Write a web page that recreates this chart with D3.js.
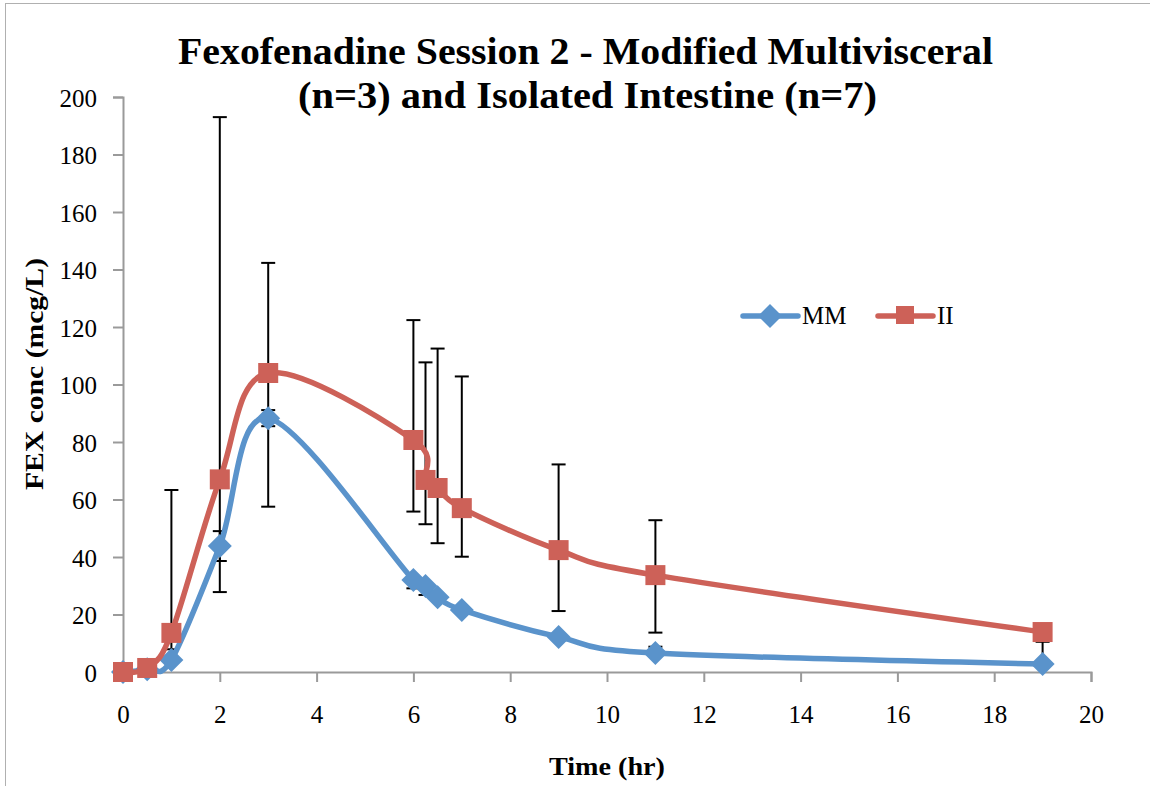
<!DOCTYPE html>
<html><head><meta charset="utf-8">
<script src="https://cdn.jsdelivr.net/npm/d3@7"></script>
<style>body{margin:0;background:#fff}svg{display:block}</style>
</head><body><svg id="c" width="1150" height="786"></svg>
<script>
const times = [0, 0.5, 1, 2, 3, 6, 6.25, 6.5, 7, 9, 11, 19];
const mmValues = [0, 1, 4.2, 43.8, 88.3, 32, 29.9, 26, 21.6, 12.2, 6.6, 2.8];
const mmUpper  = [0, 1, 4.2, 49, 91.1, 32, 29.9, 26, 21.6, 12.2, 8.8, 10.5];
const mmLower  = [0, 1, 4.2, 38.6, 85.5, 29.1, 26.8, 26, 21.6, 12.2, 6.6, 2.8];
const iiValues = [0, 1.4, 13.6, 67, 104, 80.7, 66.8, 64, 57, 42.4, 33.7, 13.9];
const iiUpper  = [0, 1.4, 63.3, 193, 142.3, 122.4, 107.7, 112.5, 102.8, 72.2, 52.8, 13.9];
const iiLower  = [0, 1.4, 7.9, 27.8, 57.5, 55.8, 51.4, 44.8, 40.1, 21.2, 13.7, 13.9];
const xTicks = [0, 2, 4, 6, 8, 10, 12, 14, 16, 18, 20];
const yTicks = [0, 20, 40, 60, 80, 100, 120, 140, 160, 180, 200];
const seriesNames = ["MM", "II"];
const titleLines = ["Fexofenadine Session 2 - Modified Multivisceral", "(n=3) and Isolated Intestine (n=7)"];

const svg = d3.select("#c");
const serif = "'Liberation Serif','DejaVu Serif',serif";
const blue = "#5a93cb", red = "#cd6158", axisGray = "#9a9a9a";

svg.append("rect").attr("x",5.5).attr("y",3.5).attr("width",1160).attr("height",800)
  .attr("fill","#fff").attr("stroke","#b0b0b0").attr("stroke-width",1);

const x = d3.scaleLinear().domain([0,20]).range([123,1091]);
const y = d3.scaleLinear().domain([0,200]).range([672,97]);

// axes
const gy = svg.append("g").attr("transform","translate(123,0)")
  .call(d3.axisLeft(y).tickValues(yTicks).tickSize(10).tickPadding(16));
const gx = svg.append("g").attr("transform","translate(0,672)")
  .call(d3.axisBottom(x).tickValues(xTicks).tickSize(10));
[gx,gy].forEach(g=>{
  g.select(".domain").attr("stroke",axisGray).attr("stroke-width",2);
  g.selectAll(".tick line").attr("stroke",axisGray).attr("stroke-width",2);
  g.selectAll(".tick text").attr("fill","#000").attr("font-family",serif).attr("font-size",25);
});
gy.selectAll(".tick text").attr("dy","0.36em");
gx.selectAll(".tick text").attr("y",51).attr("dy",0);

// error bars
function errBars(vals, up, lo){
  const g = svg.append("g").attr("stroke","#000").attr("stroke-width",2);
  times.forEach((t,i)=>{
    [[up[i],vals[i]],[lo[i],vals[i]]].forEach(([e,v])=>{
      if (Math.abs(e-v) < 0.5) return;
      g.append("line").attr("x1",x(t)).attr("x2",x(t)).attr("y1",y(v)).attr("y2",y(e));
      g.append("line").attr("x1",x(t)-7).attr("x2",x(t)+7).attr("y1",y(e)).attr("y2",y(e));
    });
  });
}
errBars(mmValues, mmUpper, mmLower);
errBars(iiValues, iiUpper, iiLower);

const line = d3.line().x(d=>x(d[0])).y(d=>y(d[1])).curve(d3.curveCardinal.tension(0));

// MM
const mmPts = times.map((t,i)=>[t,mmValues[i]]);
svg.append("path").datum(mmPts)
  .attr("d",line).attr("fill","none").attr("stroke",blue).attr("stroke-width",5.5).attr("stroke-linejoin","round");
svg.append("g").selectAll("path").data(mmPts).join("path")
  .attr("transform",d=>`translate(${x(d[0])},${y(d[1])})`)
  .attr("d","M0,-12L12,0L0,12L-12,0Z").attr("fill",blue);

// II
const iiPts = times.map((t,i)=>[t,iiValues[i]]);
svg.append("path").datum(iiPts)
  .attr("d",line).attr("fill","none").attr("stroke",red).attr("stroke-width",5.5).attr("stroke-linejoin","round");
svg.append("g").selectAll("rect").data(iiPts).join("rect")
  .attr("x",d=>x(d[0])-10).attr("y",d=>y(d[1])-10).attr("width",20).attr("height",20).attr("fill",red);

// legend
const lg = svg.append("g");
[[743,blue,"diamond"],[878,red,"square"]].forEach(([lx,c,shape],i)=>{
  lg.append("line").attr("x1",lx).attr("x2",lx+55).attr("y1",316).attr("y2",316)
    .attr("stroke",c).attr("stroke-width",5.5).attr("stroke-linecap","round");
  if (shape==="diamond") lg.append("path").attr("d",`M${lx+27},304L${lx+39},316L${lx+27},328L${lx+15},316Z`).attr("fill",c);
  else lg.append("rect").attr("x",lx+18).attr("y",306).attr("width",18).attr("height",18).attr("fill",c);
  lg.append("text").attr("x",lx+59).attr("y",324).attr("font-family",serif).attr("font-size",25).text(seriesNames[i]);
});

// titles
const tl = [[585.5,64,815],[587.5,108,579]];
svg.append("g").selectAll("text").data(titleLines).join("text")
  .attr("x",(d,i)=>tl[i][0]-tl[i][2]/2).attr("y",(d,i)=>tl[i][1])
  .attr("textLength",(d,i)=>tl[i][2]).attr("lengthAdjust","spacingAndGlyphs")
  .attr("font-family",serif).attr("font-weight","bold").attr("font-size",37).text(d=>d);
svg.append("text").attr("x",549).attr("y",775).attr("textLength",116).attr("lengthAdjust","spacingAndGlyphs")
  .attr("font-family",serif).attr("font-weight","bold").attr("font-size",25).text("Time (hr)");
svg.append("text").attr("transform","translate(43,490) rotate(-90)")
  .attr("textLength",232).attr("lengthAdjust","spacingAndGlyphs")
  .attr("font-family",serif).attr("font-weight","bold").attr("font-size",25).text("FEX conc (mcg/L)");
</script></body></html>
